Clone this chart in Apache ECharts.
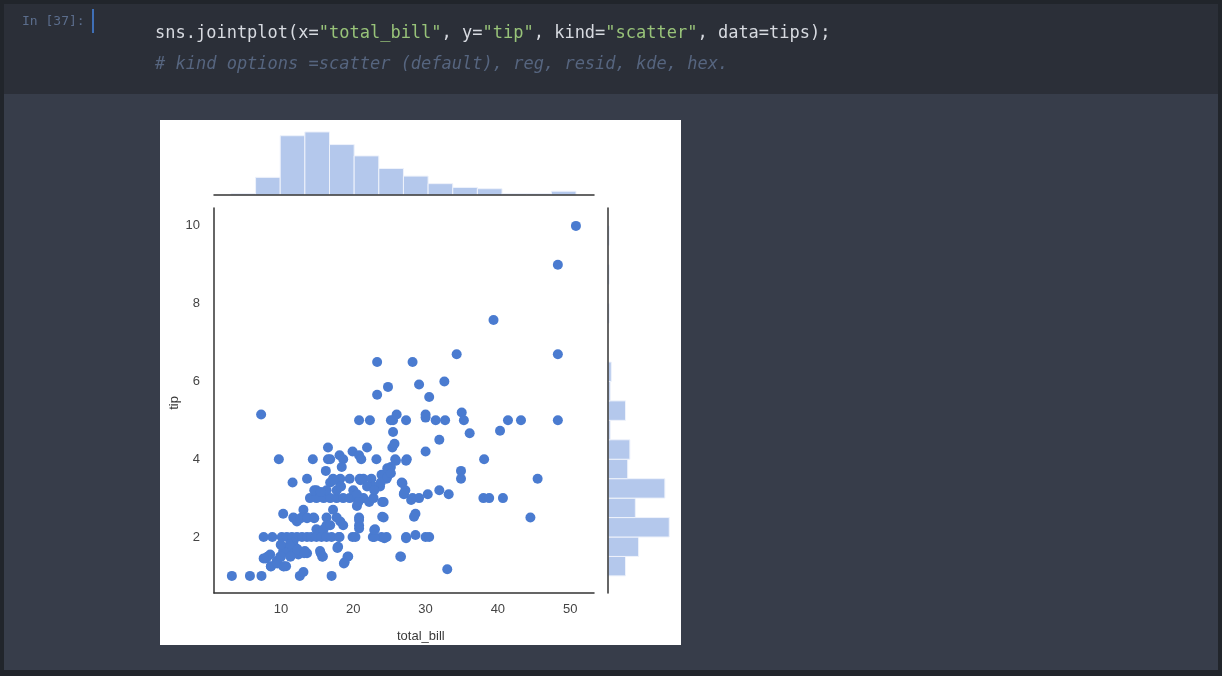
<!DOCTYPE html>
<html><head><meta charset="utf-8">
<script src="https://cdn.jsdelivr.net/npm/echarts@6/dist/echarts.min.js"></script>
<style>html,body{margin:0;padding:0;background:#21252b;}#c{width:1222px;height:676px;}</style>
</head><body><div id="c"></div>
<script>
const xTicks = [10, 20, 30, 40, 50];
const yTicks = [2, 4, 6, 8, 10];
const billBinStart = 3.07, billBinWidth = 3.41;
const billCounts = [1, 14, 47, 50, 40, 31, 21, 15, 9, 6, 5, 1, 1, 3];
const tipBinStart = 1.0, tipBinWidth = 0.5;
const tipCounts = [16, 28, 56, 25, 52, 18, 20, 2, 16, 2, 3, 0, 0, 1, 0, 1, 0, 1];
const points = [
[3.2,1],[5.7,1],[7.3,1],[7.25,5.15],[9.7,4],[14.4,4],[16.8,4],[16.5,4],[16.5,4.3],[18.1,4.1],[18.6,4],[18.4,3.8],[16.2,3.7],
[19.9,4.2],[20.8,4.1],[21.1,4],[21.9,4.3],[23.2,4],[25.8,4],[27.4,4],[25.2,3.8],[25.4,4.3],[25.7,4.4],[30,4.2],[38.1,4],
[13.6,3.5],[11.6,3.4],[17.2,3.5],[18.2,3.5],[16.8,3.4],[19.5,3.5],[20.9,3.5],[21.4,3.5],[22.5,3.5],[23.9,3.6],[24.6,3.5],[24.2,3.6],
[23.7,3.3],[22.8,3.3],[26.7,3.4],[27,3.1],[27.2,3.2],[31.9,3.2],[33.2,3.1],[30.3,3.1],[28.2,3],[29.1,3],[14.9,3.2],[15.4,3.1],
[14,3],[14.9,3],[15.9,3],[16.8,3],[17.7,3],[18.6,3],[19.5,3],[20.5,3],[21.4,3],[18.2,3.3],[17.7,3.2],[16.3,3.2],[20,3.2],[20.5,3.1],
[20.5,2.8],[20.7,2.9],[22.2,2.9],[22.8,3],[24.2,2.9],[34.9,3.7],[34.9,3.5],[38,3],[38.8,3],[40.7,3],[45.5,3.5],[44.5,2.5],
[10.3,2.6],[11.7,2.5],[12.2,2.4],[13.1,2.7],[13.6,2.5],[12.9,2.5],[14.5,2.5],[14.9,2.2],[15.4,2.1],[15.9,2.2],[16.3,2.5],[17.2,2.7],
[17.7,2.5],[18.2,2.4],[18.6,2.3],[16.3,2.3],[16.8,2.3],[20.8,2.5],[20.8,2.3],[24.2,2.5],[28.6,2.6],[23,2.2],
[7.6,2],[8.8,2],[10.1,2],[10.8,2],[11.5,2],[12.2,2],[12.9,2],[13.6,2],[14.2,2],[14.9,2],[15.6,2],[16.3,2],[17,2],[18.1,2],[19.9,2],
[20.3,2],[22.7,2],[23.9,2],[24.6,2],[27.3,2],[28.6,2.05],[30,2],[30.5,2],[24.3,1.97],[22.9,2],[18,2],
[7.9,1.45],[8.5,1.55],[8.6,1.25],[9.4,1.38],[10.3,1.25],[10.7,1.25],[9.9,1.5],[10.3,1.64],[10.8,1.7],[11.5,1.55],[12.2,1.7],[12.4,1.55],
[11.7,1.85],[11.2,1.8],[13.3,1.64],[13.6,1.58],[15.4,1.64],[15.8,1.5],[17.9,1.75],[19.3,1.5],[18.8,1.35],[12.6,1],[13.1,1.1],[17,1],
[26.5,1.5],[33,1.17],[23.3,5.66],[24.8,5.86],[29.1,5.92],[30.5,5.6],[32.6,6],[20.8,5],[22.3,5],[25.2,5],[25.5,5],[27.3,5],[26,5.15],
[30,5.15],[30,5.07],[31.4,5],[32.7,5],[35,5.2],[35.3,5],[36.1,4.67],[31.9,4.5],[40.3,4.73],[41.4,5],[43.2,5],[48.3,5],[25.5,4.7],
[50.8,10],[48.3,9],[39.4,7.58],[48.3,6.7],[34.3,6.7],[23.3,6.5],[28.2,6.5],
[14.6,3.2],[15.5,3.16],[17.3,3.46],[18.3,3.3],[21,3.46],[21.9,3.3],[22.9,3.2],[23.8,3.4],[24.7,3.55],[11.8,2.48],[12.7,2.48],[13.6,2.48],
[14.6,2.48],[11.3,1.75],[10.4,1.62],[9.96,1.8],[11.8,1.58],[11.3,1.49],[12.3,1.67],[13.2,1.58],[10,1.49],[8.1,1.49],[8.6,1.24],
[9.5,1.32],[10.4,1.24],[7.6,1.45],[15.5,1.58],[15.7,1.49],[17.8,1.72],[19.2,1.49],[18.7,1.32],[20.8,2.44],[20.8,2.22],[22.9,2.18],
[24,2.52],[24,2.9],[24.7,3.77],[25.2,3.64],[25.9,3.96],[26.8,3.38],[27,3.12],[28,2.95],[27.3,3.96],[28.4,2.52],[27.3,1.97],[26.6,1.49]
];

const billBins = billCounts.map((c,i)=>[billBinStart+i*billBinWidth, billBinStart+(i+1)*billBinWidth, c]);
const tipBins = tipCounts.map((c,i)=>[tipBinStart+i*tipBinWidth, tipBinStart+(i+1)*tipBinWidth, c]);
const XMIN=0.73, XMAX=53.3, YMIN=0.56, YMAX=10.46;
const barColor = '#b4c8ec';
const font = 'Liberation Sans, Arial, sans-serif';
const mono = 'DejaVu Sans Mono, monospace';

const chart = echarts.init(document.getElementById('c'));
const hidden = {show:false};
chart.setOption({
  backgroundColor:'#21252b',
  animation:false,
  graphic:[
    {type:'rect',shape:{x:4,y:4,width:1214,height:90},style:{fill:'#2b2f38'},z:-10},
    {type:'rect',shape:{x:4,y:94,width:1214,height:576},style:{fill:'#373d4a'},z:-10},
    {type:'rect',shape:{x:160,y:120,width:521,height:525},style:{fill:'#ffffff'},z:-9},
    {type:'rect',shape:{x:92,y:9,width:2,height:24},style:{fill:'#3f6fb6'}},
    {type:'text',left:22,top:15,style:{text:'In [37]:',fill:'#5b6d8c',font:'13px '+mono}},
    {type:'text',left:155,top:25,style:{rich:{
      d:{fill:'#d7dae0',font:'17px '+mono},
      s:{fill:'#98c379',font:'17px '+mono}},
      text:'{d|sns.jointplot(x=}{s|"total_bill"}{d|, y=}{s|"tip"}{d|, kind=}{s|"scatter"}{d|, data=tips);}'}},
    {type:'text',left:155,top:56,style:{text:'# kind options =scatter (default), reg, resid, kde, hex.',fill:'#56657f',font:'italic 17px '+mono}},
    {type:'text',left:397,top:630,style:{text:'total_bill',fill:'#3a3a3a',font:'13px '+font,align:'center',verticalAlign:'middle'}},
    {type:'text',x:174,y:403,rotation:Math.PI/2,style:{text:'tip',fill:'#3a3a3a',font:'13px '+font,align:'center',verticalAlign:'middle'}}
  ],
  grid:[
    {left:214,top:208,width:380,height:385},
    {left:214,top:125,width:380,height:70},
    {left:608,top:208,width:70,height:385}
  ],
  xAxis:[
    {gridIndex:0,type:'value',min:XMIN,max:XMAX,splitLine:hidden,axisTick:hidden,
     axisLine:{show:true,lineStyle:{color:'#333',width:1.5}},
     axisLabel:{customValues:xTicks,color:'#444',fontSize:13,fontFamily:font,margin:10}},
    {gridIndex:1,type:'value',min:XMIN,max:XMAX,splitLine:hidden,axisTick:hidden,axisLabel:hidden,z:10,
     axisLine:{show:true,lineStyle:{color:'#333',width:1.5}}},
    {gridIndex:2,type:'value',min:0,max:64,splitLine:hidden,axisTick:hidden,axisLabel:hidden,axisLine:hidden}
  ],
  yAxis:[
    {gridIndex:0,type:'value',min:YMIN,max:YMAX,splitLine:hidden,axisTick:hidden,
     axisLine:{show:true,lineStyle:{color:'#333',width:1.5}},
     axisLabel:{customValues:yTicks,color:'#444',fontSize:13,fontFamily:font,margin:14}},
    {gridIndex:1,type:'value',min:0,max:55.5,splitLine:hidden,axisTick:hidden,axisLabel:hidden,axisLine:hidden},
    {gridIndex:2,type:'value',min:YMIN,max:YMAX,splitLine:hidden,axisTick:hidden,axisLabel:hidden,z:10,
     axisLine:{show:true,lineStyle:{color:'#333',width:1.5}}}
  ],
  series:[
    {type:'scatter',xAxisIndex:0,yAxisIndex:0,data:points,symbolSize:10,itemStyle:{color:'#4a7bd0',opacity:1}},
    {type:'custom',xAxisIndex:1,yAxisIndex:1,z:1,data:billBins,renderItem:(p,api)=>{
      if(!api.value(2)) return null;
      const a=api.coord([api.value(0),api.value(2)]), b=api.coord([api.value(1),0]);
      return {type:'rect',shape:{x:a[0],y:a[1],width:b[0]-a[0],height:b[1]-a[1]},style:{fill:barColor,stroke:'#eef2fb',lineWidth:1}};
    }},
    {type:'custom',xAxisIndex:2,yAxisIndex:2,z:1,data:tipBins,renderItem:(p,api)=>{
      if(!api.value(2)) return null;
      const a=api.coord([0,api.value(1)]), b=api.coord([api.value(2),api.value(0)]);
      return {type:'rect',shape:{x:a[0],y:a[1],width:b[0]-a[0],height:b[1]-a[1]},style:{fill:barColor,stroke:'#eef2fb',lineWidth:1}};
    }}
  ]
});
</script></body></html>
